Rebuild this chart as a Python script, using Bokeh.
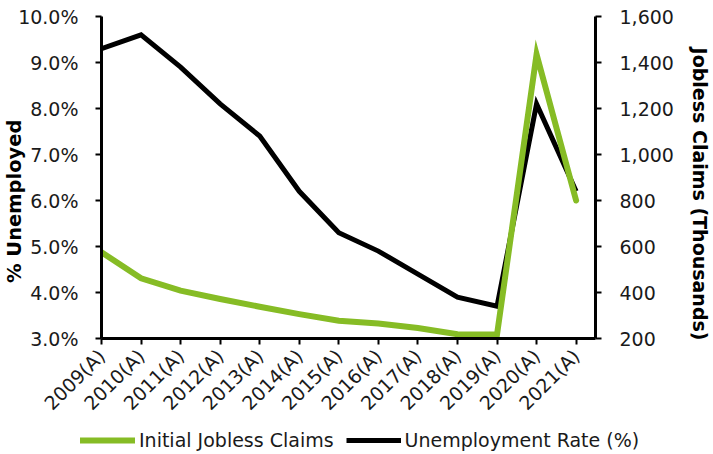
import math

from bokeh.embed import file_html
from bokeh.layouts import column, row
from bokeh.models import (CustomJSTickFormatter, FixedTicker, Legend, LegendItem,
                          LinearAxis, NumeralTickFormatter, PrintfTickFormatter, Range1d)
from bokeh.plotting import figure
from bokeh.resources import INLINE

# ---- data ------------------------------------------------------------------
years = [2009, 2010, 2011, 2012, 2013, 2014, 2015, 2016, 2017, 2018, 2019, 2020, 2021]
year_labels = ["2009(A)", "2010(A)", "2011(A)", "2012(A)", "2013(A)", "2014(A)", "2015(A)",
               "2016(A)", "2017(A)", "2018(A)", "2019(A)", "2020(A)", "2021(A)"]

# annual unemployment rate, %
unemployment_rate = [9.3, 9.6, 8.9, 8.1, 7.4, 6.2, 5.3, 4.9, 4.4, 3.9, 3.7, 8.1, 6.2]
# initial jobless claims, thousands
jobless_claims = [575, 462, 408, 372, 338, 306, 277, 265, 246, 219, 217, 1435, 800]

rate_ticks = [3, 4, 5, 6, 7, 8, 9, 10]
claims_ticks = [200, 400, 600, 800, 1000, 1200, 1400, 1600]

series_names = ["Initial Jobless Claims", "Unemployment Rate (%)"]

GREEN = "#86BC25"
INK = "#000000"
TEXT = "#1a1a1a"
FONT = "DejaVu Sans"
NBSP = "\u00a0"  # padding that nudges the axis titles off-centre

# ---- main chart ------------------------------------------------------------
p = figure(
    width=713, height=424,
    x_range=Range1d(2009, 2021.49),
    y_range=Range1d(3, 10),
    output_backend="svg", toolbar_location=None,
    min_border_left=101, min_border_right=113,
    min_border_top=16, min_border_bottom=86,
    outline_line_color=None,
    background_fill_color="white", border_fill_color="white",
)
p.extra_y_ranges = {"claims": Range1d(200, 1600)}
p.grid.grid_line_color = None


def style_axis(ax, title_size="19.5px"):
    ax.axis_line_color = INK
    ax.axis_line_width = 3
    ax.major_tick_line_color = INK
    ax.major_tick_line_width = 2
    ax.major_tick_out = 6
    ax.major_tick_in = 0
    ax.minor_tick_line_color = None
    ax.major_label_text_font = FONT
    ax.major_label_text_font_size = "19px"
    ax.major_label_text_color = TEXT
    ax.axis_label_text_font = FONT
    ax.axis_label_text_font_size = title_size
    ax.axis_label_text_font_style = "bold"
    ax.axis_label_text_color = INK


# bottom: one tick per year, labels tilted
xax = p.xaxis[0]
xax.ticker = FixedTicker(ticks=years)
xax.formatter = CustomJSTickFormatter(
    args=dict(years=years, labels=year_labels),
    code="return labels[years.indexOf(Math.round(tick))];",
)
xax.major_label_orientation = math.pi / 4
xax.major_label_standoff = 8
style_axis(xax)

# left: unemployment rate
yax = p.yaxis[0]
yax.ticker = FixedTicker(ticks=rate_ticks)
yax.formatter = PrintfTickFormatter(format="%.1f%%")
yax.axis_label = "% Unemployed" + NBSP * 7
yax.major_label_standoff = 17
yax.axis_label_standoff = -11
style_axis(yax, "19.5px")

# right: jobless claims
rax = LinearAxis(
    y_range_name="claims",
    ticker=FixedTicker(ticks=claims_ticks),
    formatter=NumeralTickFormatter(format="0,0"),
    axis_label=NBSP * 5 + "Jobless Claims (Thousands)",
)
rax.major_label_standoff = 18
rax.axis_label_standoff = 12
style_axis(rax, "19px")
p.add_layout(rax, "right")

rate_style = dict(line_color=INK, line_width=5, line_join="miter", line_cap="butt")
claims_style = dict(line_color=GREEN, line_width=6, line_join="miter", line_cap="round")

p.line(years, unemployment_rate, **rate_style)
p.line(years, jobless_claims, y_range_name="claims", **claims_style)

# ---- legend strip underneath -----------------------------------------------
# the strip's ranges sit away from the series, so only the legend keys show
key = figure(
    width=713, height=30,
    x_range=Range1d(0, 1), y_range=Range1d(0, 1),
    output_backend="svg", toolbar_location=None,
    x_axis_location=None, y_axis_location=None,
    min_border=0, min_border_left=0, min_border_right=0,
    min_border_top=0, min_border_bottom=0,
    outline_line_color=None,
    background_fill_color="white", border_fill_color="white",
)
key.grid.grid_line_color = None
claims_key = key.line(years, jobless_claims, **claims_style)
rate_key = key.line(years, unemployment_rate, **rate_style)

legend = Legend(
    items=[
        LegendItem(label=series_names[0], renderers=[claims_key]),
        LegendItem(label=series_names[1], renderers=[rate_key]),
    ],
    orientation="horizontal",
    location=(80, 3),
    glyph_width=55, glyph_height=20,
    label_standoff=4, spacing=12,
    padding=0, margin=0,
    border_line_color=None, background_fill_alpha=0,
    label_text_font=FONT, label_text_font_size="19px", label_text_color=TEXT,
)
key.add_layout(legend, "center")

# the strip gets its own row so its frame keeps the full page width
layout = column(p, row(key), spacing=0)

with open("out.html", "w") as f:
    f.write(file_html(layout, INLINE))
